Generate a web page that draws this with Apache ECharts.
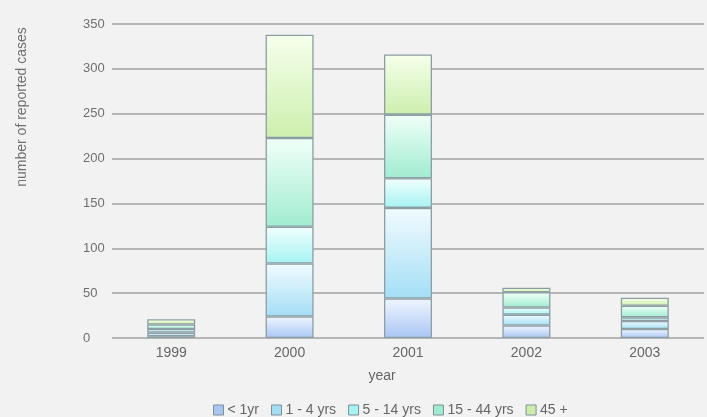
<!DOCTYPE html>
<html>
<head>
<meta charset="utf-8">
<script src="https://cdn.jsdelivr.net/npm/echarts@6/dist/echarts.min.js"></script>
<style>
  html, body { margin: 0; padding: 0; background: #f2f2f2; }
  #chart { width: 707px; height: 417px; }
</style>
</head>
<body>
<div id="chart"></div>
<script>
// data
const years = ['1999', '2000', '2001', '2002', '2003'];
const ageGroups = ['< 1yr', '1 - 4 yrs', '5 - 14 yrs', '15 - 44 yrs', '45 +'];
const under1 = [2, 24, 44, 14, 10];
const age1to4 = [4, 59, 101, 12, 9];
const age5to14 = [4, 41, 33, 8, 4];
const age15to44 = [5, 99, 71, 17, 13];
const age45plus = [6, 115, 67, 5, 9];

const yTicks = { min: 0, max: 350, interval: 50 };

// [top colour, bottom colour] for each age group
const fills = [
  ['#f1f6ff', '#a8c6f4'],
  ['#f2fbff', '#a3def5'],
  ['#f1fffe', '#a6f3f3'],
  ['#f1fff9', '#a0ecd0'],
  ['#f6ffec', '#cdefad']
];

const chart = echarts.init(document.getElementById('chart'));

function grad([top, bottom]) {
  return new echarts.graphic.LinearGradient(0, 0, 0, 1, [
    { offset: 0, color: top },
    { offset: 1, color: bottom }
  ]);
}

const values = [under1, age1to4, age5to14, age15to44, age45plus];

const series = ageGroups.map((name, i) => ({
  name,
  type: 'bar',
  stack: 'total',
  barWidth: 48,
  data: values[i],
  itemStyle: {
    color: grad(fills[i]),
    borderColor: '#8c9ea4',
    borderWidth: 1.3
  }
}));

const font = 'Liberation Sans, Arial, sans-serif';

chart.setOption({
  backgroundColor: '#f2f2f2',
  animation: false,
  textStyle: { fontFamily: font },
  grid: { left: 112, right: 3, top: 24, bottom: 79 },
  legend: {
    left: 208,
    top: 398,
    itemWidth: 10,
    itemHeight: 10,
    itemGap: 12,
    icon: 'rect',
    textStyle: { color: '#666', fontSize: 14, padding: [0, 0, 0, -1] },
    data: ageGroups.map((name, i) => ({
      name,
      itemStyle: { color: fills[i][1], borderColor: '#7f8f96', borderWidth: 1 }
    }))
  },
  xAxis: {
    type: 'category',
    data: years,
    axisLine: { show: false },
    axisTick: { show: false },
    axisLabel: { color: '#666', fontSize: 14, margin: 8 }
  },
  yAxis: {
    type: 'value',
    min: yTicks.min,
    max: yTicks.max,
    interval: yTicks.interval,
    axisLine: { show: false },
    axisTick: { show: false },
    axisLabel: { color: '#6f6f6f', fontSize: 13, align: 'left', margin: 29 },
    splitLine: { lineStyle: { color: '#b6b6b6', width: 1.8 } }
  },
  graphic: [
    {
      type: 'text',
      x: 22,
      y: 107,
      rotation: Math.PI / 2,
      style: {
        text: 'number of reported cases',
        fill: '#6f6f6f',
        font: '14px ' + font,
        align: 'center',
        verticalAlign: 'middle'
      }
    },
    {
      type: 'text',
      x: 382,
      y: 376,
      style: {
        text: 'year',
        fill: '#666',
        font: '14px ' + font,
        align: 'center',
        verticalAlign: 'middle'
      }
    }
  ],
  series
});
</script>
</body>
</html>
